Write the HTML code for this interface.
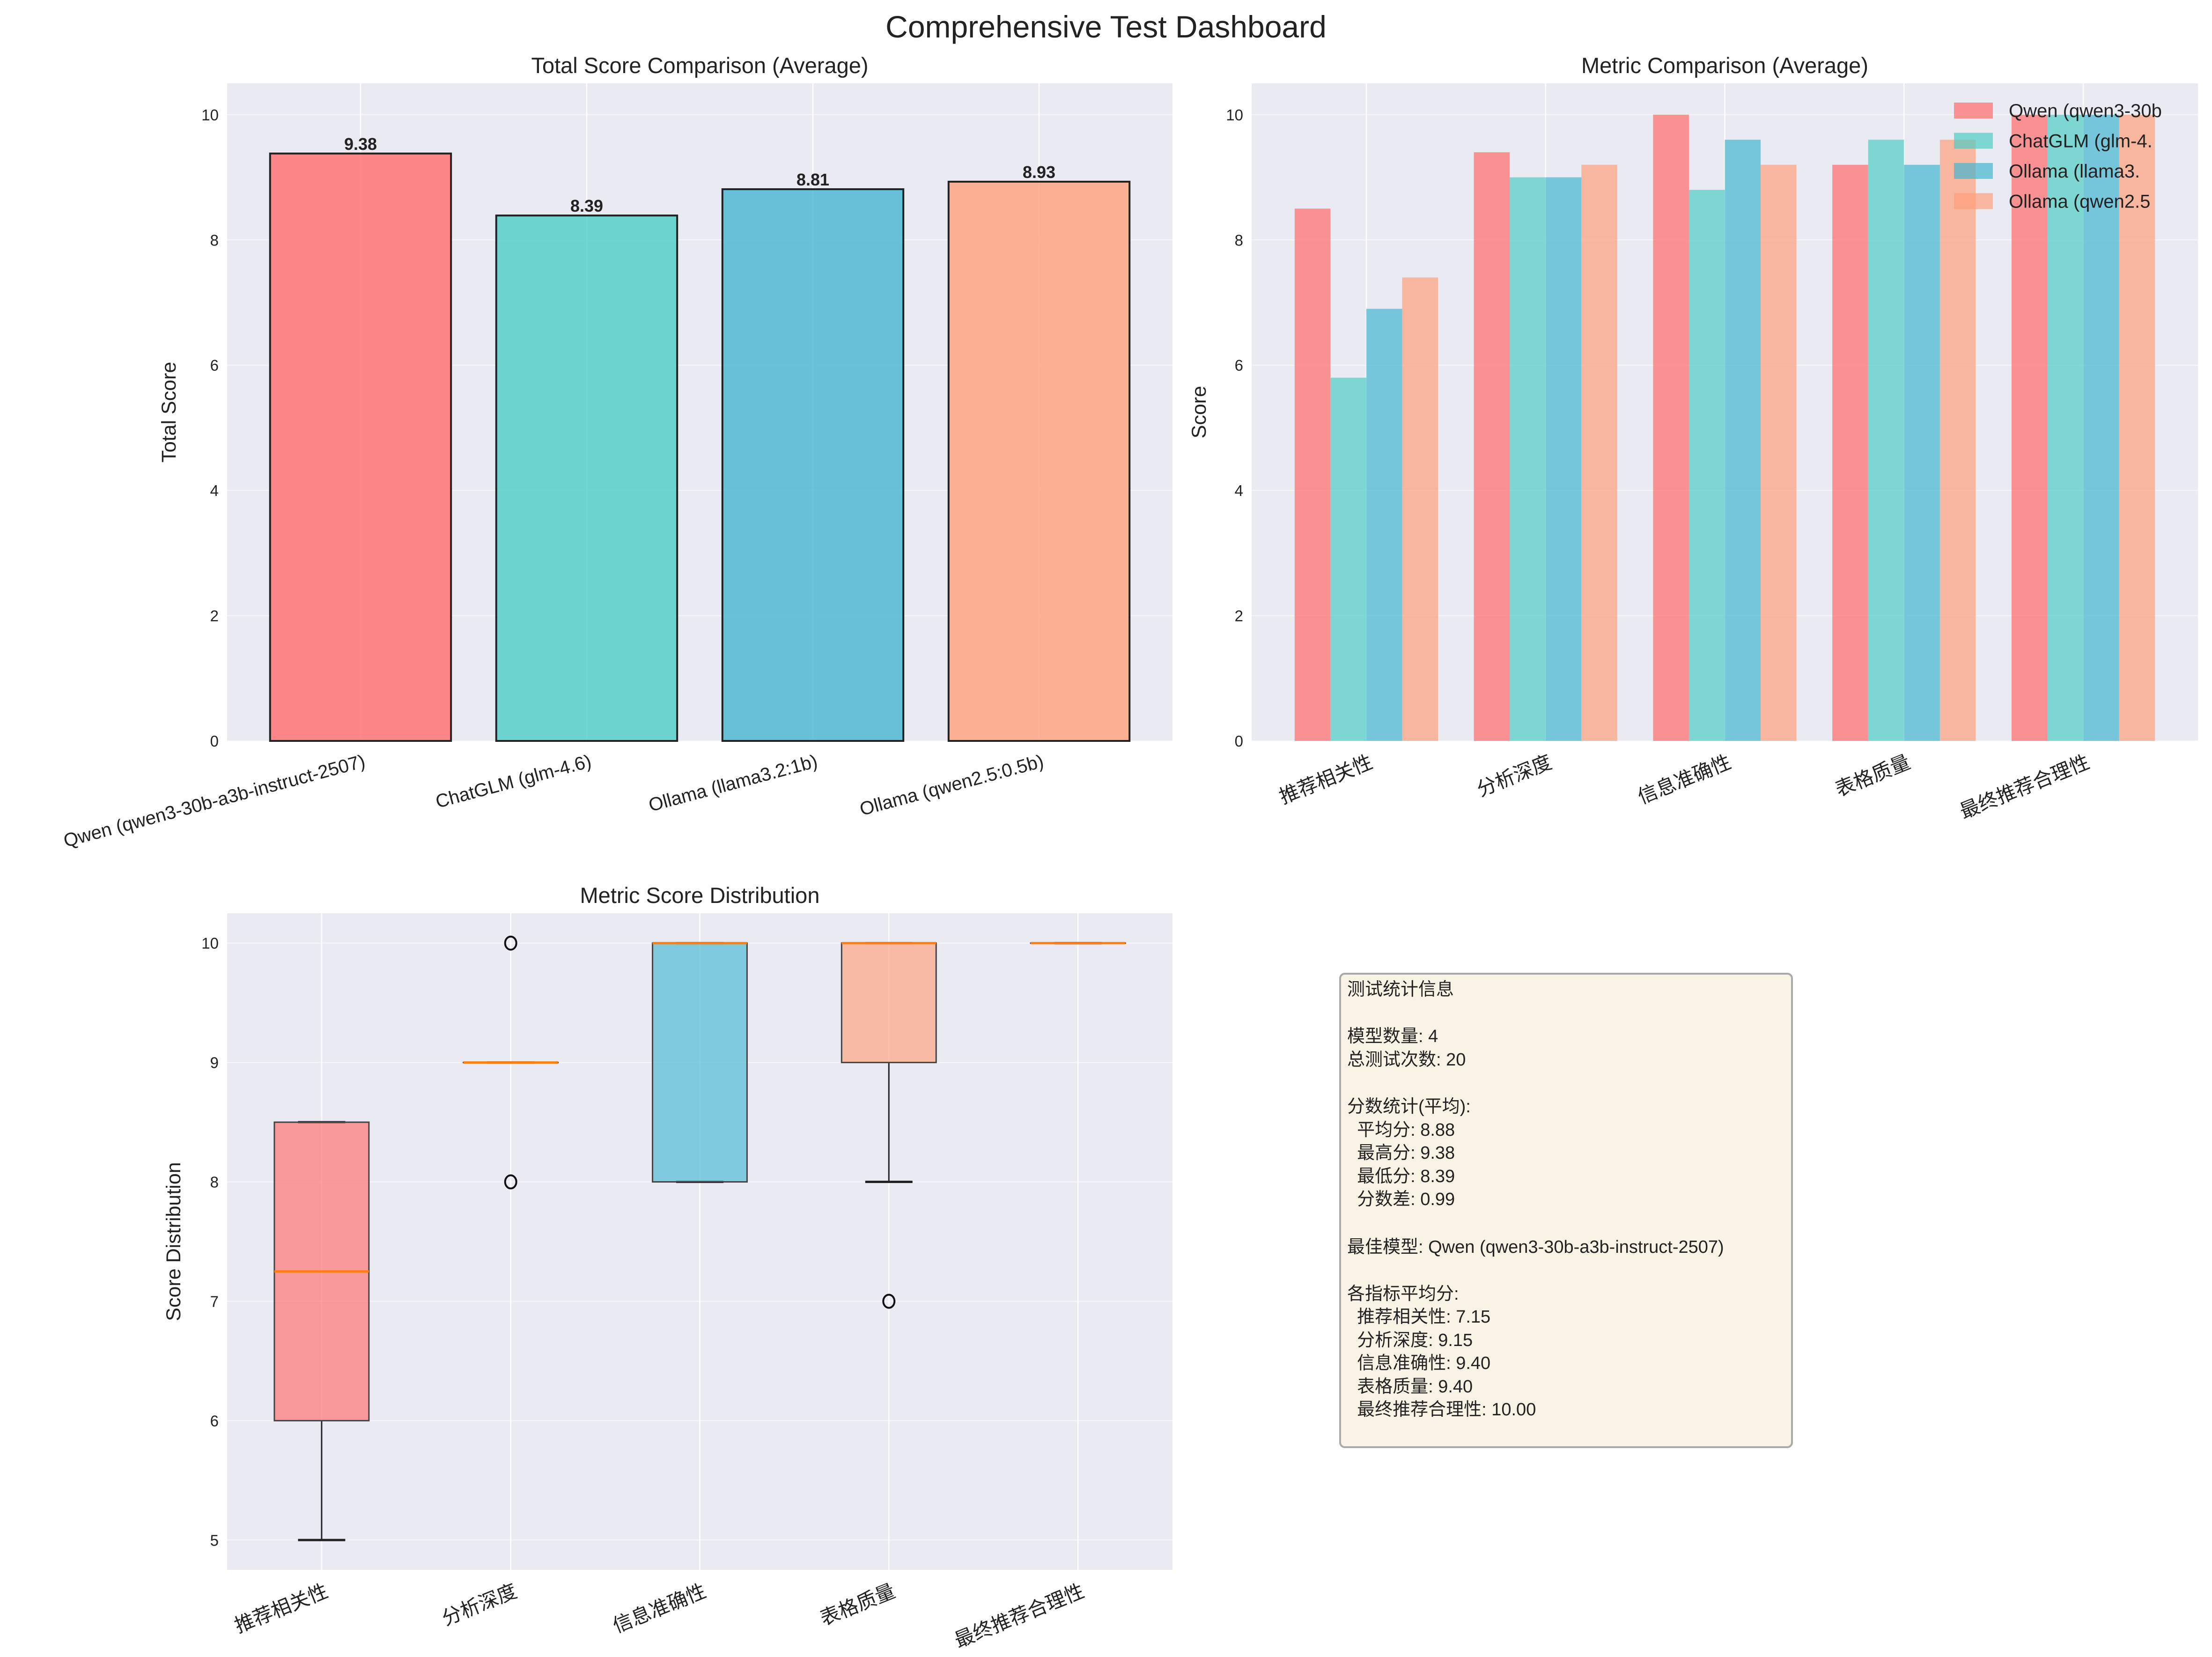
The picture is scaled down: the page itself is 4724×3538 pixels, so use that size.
<!DOCTYPE html>
<html><head><meta charset="utf-8"><style>
html,body{margin:0;padding:0;background:#fff;}
svg{display:block;font-family:"Liberation Sans","Noto Sans CJK SC",sans-serif;}
</style></head><body>
<svg id="fig" width="4724" height="3538" viewBox="0 0 4724 3538" xmlns="http://www.w3.org/2000/svg">
<text x="2362" y="80" font-size="66" text-anchor="middle" fill="#222">Comprehensive Test Dashboard</text>
<g id="g1"></g>
<g id="g2"></g>
<g id="g3"></g>
<g>
<rect x="2862" y="2079" width="965" height="1011" rx="10" fill="#f9f3e6" stroke="#aaa" stroke-width="4"/>
<text font-size="38" fill="#222" xml:space="preserve" style="white-space:pre"><tspan x="2877" y="2125">测试统计信息</tspan><tspan x="2877" y="2225">模型数量: 4</tspan><tspan x="2877" y="2275">总测试次数: 20</tspan><tspan x="2877" y="2375">分数统计(平均):</tspan><tspan x="2877" y="2425">  平均分: 8.88</tspan><tspan x="2877" y="2474">  最高分: 9.38</tspan><tspan x="2877" y="2524">  最低分: 8.39</tspan><tspan x="2877" y="2573">  分数差: 0.99</tspan><tspan x="2877" y="2675">最佳模型: Qwen (qwen3-30b-a3b-instruct-2507)</tspan><tspan x="2877" y="2775">各指标平均分:</tspan><tspan x="2877" y="2824">  推荐相关性: 7.15</tspan><tspan x="2877" y="2874">  分析深度: 9.15</tspan><tspan x="2877" y="2923">  信息准确性: 9.40</tspan><tspan x="2877" y="2973">  表格质量: 9.40</tspan><tspan x="2877" y="3022">  最终推荐合理性: 10.00</tspan></text>
</g>
</svg>
<script>
const models = ["Qwen (qwen3-30b-a3b-instruct-2507)","ChatGLM (glm-4.6)","Ollama (llama3.2:1b)","Ollama (qwen2.5:0.5b)"];
const totalScores = [9.38, 8.39, 8.81, 8.93];
const metrics = ["推荐相关性","分析深度","信息准确性","表格质量","最终推荐合理性"];
const qwenMetric = [8.5, 9.4, 10.0, 9.2, 10.0];
const glmMetric = [5.8, 9.0, 8.8, 9.6, 10.0];
const llamaMetric = [6.9, 9.0, 9.6, 9.2, 10.0];
const qwen25Metric = [7.4, 9.2, 9.2, 9.6, 10.0];
const legendNames = ["Qwen (qwen3-30b","ChatGLM (glm-4.","Ollama (llama3.","Ollama (qwen2.5"];
const boxQ1 = [6, 9, 8, 9, 10];
const boxMed = [7.25, 9, 10, 10, 10];
const boxQ3 = [8.5, 9, 10, 10, 10];
const boxWhLo = [5, 9, 8, 8, 10];
const boxWhHi = [8.5, 9, 10, 10, 10];
const boxFliers = [[], [10, 8], [], [7], []];
const yTicks1 = [0,2,4,6,8,10];
const yTicks3 = [5,6,7,8,9,10];
const colors = ["#FF6B6B","#4ECDC4","#45B7D1","#FFA07A"];
const NS = "http://www.w3.org/2000/svg";
function mk(p, tag, at, txt){const e=document.createElementNS(NS,tag);for(const k in at)e.setAttribute(k,at[k]);if(txt!==undefined)e.textContent=txt;p.appendChild(e);return e;}
function axes(g, L, R, T, B, x0, x1, y0, y1, yt, xt, xlabels, rot, title, ylab, ylx, xfs){
  const sx=v=>L+(v-x0)/(x1-x0)*(R-L), sy=v=>B-(v-y0)/(y1-y0)*(B-T);
  const bg=mk(g,"rect",{x:L,y:T,width:R-L,height:B-T,fill:"#eaeaf2"});
  
  
  yt.forEach(v=>{mk(g,"line",{x1:L,x2:R,y1:sy(v),y2:sy(v),stroke:"#fff","stroke-width":2,opacity:0.6});
    const t=mk(g,"text",{x:L-18,y:sy(v)+12,"font-size":33,"text-anchor":"end",fill:"#222"},String(v));
    
    });
  xt.forEach((v,i)=>{mk(g,"line",{x1:sx(v),x2:sx(v),y1:T,y2:B,stroke:"#fff","stroke-width":2.5});
    const X=sx(v)+5,Y=B+28;
    const t=mk(g,"text",{x:X,y:Y,"font-size":xfs,"text-anchor":"end",fill:"#222",transform:`rotate(${-rot} ${X} ${Y})`,"dominant-baseline":"hanging"},xlabels[i]);
    
    });
  const tt=mk(g,"text",{x:(L+R)/2,y:T-22,"font-size":47,"text-anchor":"middle",fill:"#222"},title);
  
  
  const yl=mk(g,"text",{x:ylx,y:(T+B)/2,"font-size":43,"text-anchor":"middle",fill:"#222",transform:`rotate(-90 ${ylx} ${(T+B)/2})`},ylab);
  
  
  return {sx,sy};
}
// chart 1
(function(){
  const g=document.getElementById("g1");
  const L=485,R=2504,T=178,B=1582;
  const {sx,sy}=axes(g,L,R,T,B,-0.59,3.59,0,10.5,yTicks1,[0,1,2,3],models,15,"Total Score Comparison (Average)","Total Score",375,40);
  totalScores.forEach((v,i)=>{
    const w=sx(0.4)-sx(0);
    const r=mk(g,"rect",{x:sx(i)-w,y:sy(v),width:2*w,height:sy(0)-sy(v),fill:colors[i],"fill-opacity":0.8,stroke:"#222","stroke-width":4});
    
    
    const t=mk(g,"text",{x:sx(i),y:sy(v)-8,"font-size":36,"font-weight":"bold","text-anchor":"middle",fill:"#222"},v.toFixed(2));
    
    
  });
})();
// chart 2
(function(){
  const g=document.getElementById("g2");
  const L=2673,R=4694,T=178,B=1582;
  const {sx,sy}=axes(g,L,R,T,B,-0.64,4.64,0,10.5,yTicks1,[0,1,2,3,4],metrics,22,"Metric Comparison (Average)","Score",2575,42);
  const series=[qwenMetric,glmMetric,llamaMetric,qwen25Metric];
  const bw=0.2;
  series.forEach((s,k)=>{s.forEach((v,i)=>{
    const x=i+(k-1.5)*bw;
    const r=mk(g,"rect",{x:sx(x-bw/2),y:sy(v),width:sx(bw)-sx(0),height:sy(0)-sy(v),fill:colors[k],"fill-opacity":0.7});
    
    
  });});
  legendNames.forEach((n,k)=>{
    const y=236+k*64.5;
    const r=mk(g,"rect",{x:4173,y:y-17,width:83,height:34,fill:colors[k],"fill-opacity":0.7});
    
    
    const t=mk(g,"text",{x:4290,y:y+14,"font-size":40,fill:"#222"},n);
    
    
  });
})();
// chart 3
(function(){
  const g=document.getElementById("g3");
  const L=485,R=2504,T=1950,B=3352;
  const {sx,sy}=axes(g,L,R,T,B,0.5,5.5,4.75,10.25,yTicks3,[1,2,3,4,5],metrics,22,"Metric Score Distribution","Score Distribution",385,42);
  metrics.forEach((m,i)=>{
    const c=i+1, hw=sx(0.25)-sx(0), cw=sx(0.125)-sx(0);
    mk(g,"line",{x1:sx(c),x2:sx(c),y1:sy(boxQ1[i]),y2:sy(boxWhLo[i]),stroke:"#222","stroke-width":3});
    mk(g,"line",{x1:sx(c),x2:sx(c),y1:sy(boxQ3[i]),y2:sy(boxWhHi[i]),stroke:"#222","stroke-width":3});
    mk(g,"line",{x1:sx(c)-cw,x2:sx(c)+cw,y1:sy(boxWhLo[i]),y2:sy(boxWhLo[i]),stroke:"#222","stroke-width":5});
    mk(g,"line",{x1:sx(c)-cw,x2:sx(c)+cw,y1:sy(boxWhHi[i]),y2:sy(boxWhHi[i]),stroke:"#222","stroke-width":5});
    const b=mk(g,"rect",{x:sx(c)-hw,y:sy(boxQ3[i]),width:2*hw,height:Math.max(sy(boxQ1[i])-sy(boxQ3[i]),0.1),fill:colors[i%4],"fill-opacity":0.65,stroke:"#444","stroke-width":3});
    
    
    const md=mk(g,"line",{x1:sx(c)-hw,x2:sx(c)+hw,y1:sy(boxMed[i]),y2:sy(boxMed[i]),stroke:"#ff7f0e","stroke-width":5});
    
    
    boxFliers[i].forEach(v=>{
      const f=mk(g,"ellipse",{cx:sx(c),cy:sy(v),rx:12,ry:14,fill:"none",stroke:"#111","stroke-width":4});
      
      
    });
  });
})();
</script>
</body></html>
